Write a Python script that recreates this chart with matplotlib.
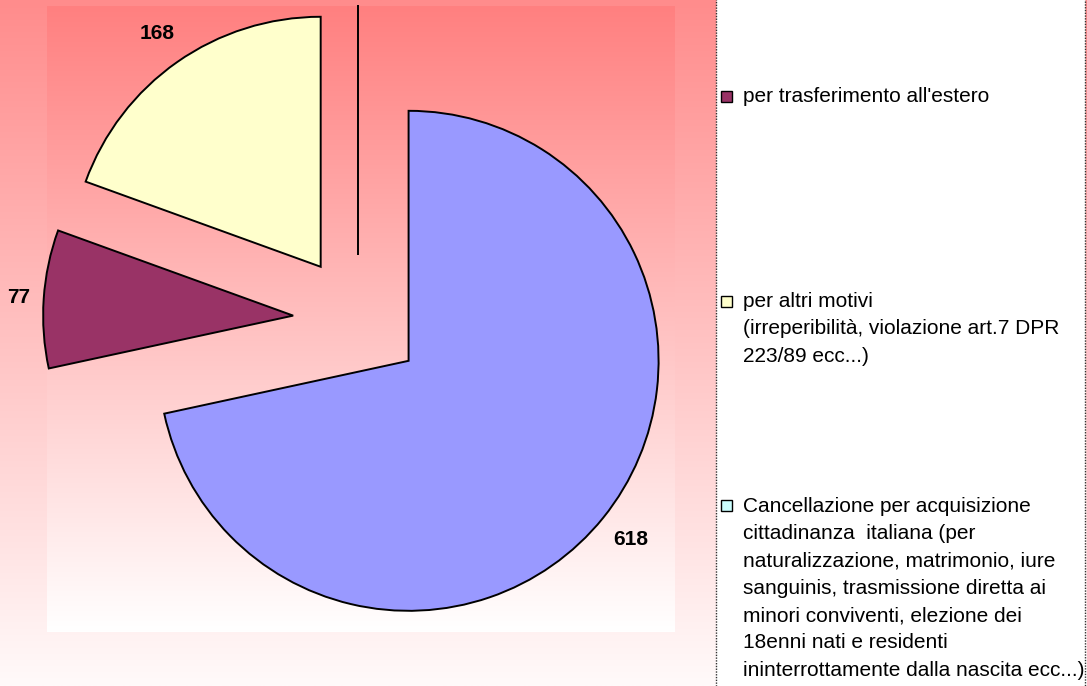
import numpy as np
import matplotlib.pyplot as plt
from matplotlib.patches import Rectangle

plt.rcParams['font.family'] = ['Liberation Sans', 'DejaVu Sans']

# data (first slice's legend entry is cut off in the original)
categories = [
    "",
    "per trasferimento all'estero",
    "per altri motivi\n(irreperibilità, violazione art.7 DPR\n223/89 ecc...)",
    "Cancellazione per acquisizione\ncittadinanza  italiana (per\nnaturalizzazione, matrimonio, iure\n"
    "sanguinis, trasmissione diretta ai\nminori conviventi, elezione dei\n18enni nati e residenti\n"
    "ininterrottamente dalla nascita ecc...)",
]
values = [618, 77, 168, 0]
colors = ["#9999FF", "#993366", "#FFFFCC", "#CCFFFF"]
label_dist = [1.14, 1.10, 1.14, 1.14]

W, H = 1087, 686
fig = plt.figure(figsize=(W / 100, H / 100), dpi=100)

# background gradients (pixel coordinates)
bg = fig.add_axes([0, 0, 1, 1])
bg.set_xlim(0, W)
bg.set_ylim(H, 0)
bg.axis("off")


def vgrad(top, bottom, n=256):
    t = np.linspace(0, 1, n)[:, None]
    top = np.array(top) / 255
    bottom = np.array(bottom) / 255
    return (top + (bottom - top) * t)[:, None, :].repeat(2, axis=1)


bg.imshow(vgrad((255, 140, 140), (255, 250, 250)), extent=(0, W, H, 0), aspect="auto")
bg.imshow(vgrad((255, 128, 128), (255, 255, 255)), extent=(47, 675, 632, 6), aspect="auto")
bg.add_patch(Rectangle((716, -5), 369, H + 10, facecolor="white", edgecolor="#333333",
                       linestyle=(0, (1, 1)), linewidth=1))

# pie
ax = fig.add_axes([0, 0, 716 / W, 1])
ax.patch.set_alpha(0)
total = sum(values)
wedges, _, autotexts = ax.pie(
    values,
    colors=colors,
    startangle=90,
    counterclock=False,
    explode=[0.26] * len(values),
    autopct=lambda p: f"{round(p * total / 100)}" if p > 0 else "",
    wedgeprops=dict(edgecolor="black", linewidth=1.4),
    textprops=dict(fontsize=15, fontweight="bold", color="black"),
)
for w, t, d in zip(wedges, autotexts, label_dist):
    a = np.deg2rad((w.theta1 + w.theta2) / 2)
    cx, cy = w.center
    t.set_position((cx + d * w.r * np.cos(a), cy + d * w.r * np.sin(a)))
ax.set_xlim(-1.432, 1.432)
ax.set_ylim(-1.464, 1.28)
ax.set_aspect("auto")

# legend (entries spaced evenly by their first line)
first_baseline = 103
pitch = 204.5
for i, (lab, col) in enumerate(zip(categories[1:], colors[1:])):
    yb = first_baseline + i * pitch
    fig.text(743 / W, 1 - (yb - 15.5) / H, lab, ha="left", va="top", fontsize=15,
             linespacing=1.56, color="black")
    fig.add_artist(Rectangle((721 / W, 1 - (yb - 1) / H), 11 / W, 11 / H,
                             transform=fig.transFigure, facecolor=col,
                             edgecolor="black", linewidth=1))

fig.savefig("out.png", dpi=100)
